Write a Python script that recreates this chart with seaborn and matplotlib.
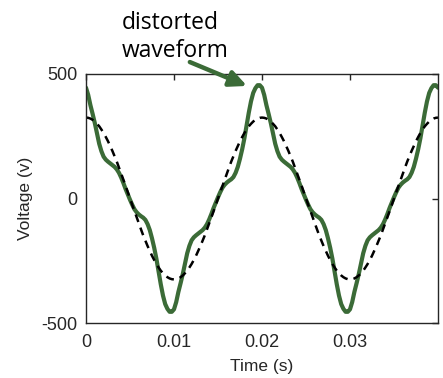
import numpy as np
import matplotlib
matplotlib.use("Agg")
import matplotlib.pyplot as plt
import seaborn as sns

# Sample times (s), one every 0.25 ms over two cycles
time_s = np.linspace(0, 0.04, 161)

# Distorted voltage (V)
distorted_v = [
    445, 416, 375, 340, 303, 262, 220, 190, 168, 156,
    148, 141, 134, 127, 117, 103, 84, 62, 38, 16,
    -5, -25, -43, -55, -64, -71, -77, -86, -103, -127,
    -160, -198, -242, -293, -345, -390, -424, -443, -455, -455,
    -445, -416, -375, -340, -303, -262, -220, -190, -168, -156,
    -148, -141, -134, -127, -117, -103, -84, -62, -38, -16,
    5, 25, 43, 55, 64, 71, 77, 86, 103, 127,
    160, 198, 242, 293, 345, 390, 424, 443, 455, 455,
    445, 416, 375, 340, 303, 262, 220, 190, 168, 156,
    148, 141, 134, 127, 117, 103, 84, 62, 38, 16,
    -5, -25, -43, -55, -64, -71, -77, -86, -103, -127,
    -160, -198, -242, -293, -345, -390, -424, -443, -455, -455,
    -445, -416, -375, -340, -303, -262, -220, -190, -168, -156,
    -148, -141, -134, -127, -117, -103, -84, -62, -38, -16,
    5, 25, 43, 55, 64, 71, 77, 86, 103, 127,
    160, 198, 242, 293, 345, 390, 424, 443, 455, 455,
    445,
]

# Fundamental (dashed) voltage (V)
fundamental_v = [
    325, 324, 321, 316, 309, 300, 290, 277, 263, 247,
    230, 211, 191, 170, 148, 124, 100, 76, 51, 25,
    0, -25, -51, -76, -100, -124, -148, -170, -191, -211,
    -230, -247, -263, -277, -290, -300, -309, -316, -321, -324,
    -325, -324, -321, -316, -309, -300, -290, -277, -263, -247,
    -230, -211, -191, -170, -148, -124, -100, -76, -51, -25,
    0, 25, 51, 76, 100, 124, 148, 170, 191, 211,
    230, 247, 263, 277, 290, 300, 309, 316, 321, 324,
    325, 324, 321, 316, 309, 300, 290, 277, 263, 247,
    230, 211, 191, 170, 148, 124, 100, 76, 51, 25,
    0, -25, -51, -76, -100, -124, -148, -170, -191, -211,
    -230, -247, -263, -277, -290, -300, -309, -316, -321, -324,
    -325, -324, -321, -316, -309, -300, -290, -277, -263, -247,
    -230, -211, -191, -170, -148, -124, -100, -76, -51, -25,
    0, 25, 51, 76, 100, 124, 148, 170, 191, 211,
    230, 247, 263, 277, 290, 300, 309, 316, 321, 324,
    325,
]

x_ticks = [0, 0.01, 0.02, 0.03]
x_tick_labels = ["0", "0.01", "0.02", "0.03"]
y_ticks = [-500, 0, 500]
y_tick_labels = ["-500", "0", "500"]

green = "#3b6b37"
ink = "#262626"

sns.set_style("white")
plt.rcParams["font.family"] = ["Liberation Sans", "DejaVu Sans"]

fig = plt.figure(figsize=(4.43, 3.78), dpi=100)
ax = fig.add_axes([86 / 443, 1 - 323 / 378, 352 / 443, 249 / 378])

sns.lineplot(x=time_s, y=distorted_v, color=green, linewidth=3.0, ax=ax)
sns.lineplot(x=time_s, y=fundamental_v, color="black", linewidth=1.8, ax=ax)
ax.lines[0].set_solid_joinstyle("round")
ax.lines[1].set_dashes((3.2, 2.4))

ax.set_xlim(0, 0.04)
ax.set_ylim(-500, 500)
ax.set_xticks(x_ticks, x_tick_labels)
ax.set_yticks(y_ticks, y_tick_labels)
ax.tick_params(direction="in", length=4, width=1, colors=ink, labelsize=13,
               top=True, right=True, labeltop=False, labelright=False)
ax.tick_params(axis="x", pad=8)
ax.tick_params(axis="y", pad=6)
for s in ax.spines.values():
    s.set_color(ink)
    s.set_linewidth(1.0)

ax.set_xlabel("Time (s)", fontsize=12.5, color=ink)
ax.set_ylabel("Voltage (v)", fontsize=12.5, color=ink)
ax.xaxis.set_label_coords(0.5, -0.145)
ax.yaxis.set_label_coords(-0.15, 0.5)

# annotation arrow and text
ax.annotate("", xy=(0.0183, 452), xytext=(0.0118, 548), annotation_clip=False,
            arrowprops=dict(arrowstyle="-|>,head_length=0.85,head_width=0.4",
                            color=green, lw=3.2, mutation_scale=12,
                            shrinkA=0, shrinkB=0))
fig.text(122 / 443, 1 - 29 / 378, "distorted", fontsize=16.5,
         family=["Open Sans", "DejaVu Sans"], color="black", va="baseline")
fig.text(122 / 443, 1 - 57 / 378, "waveform", fontsize=16.5,
         family=["Open Sans", "DejaVu Sans"], color="black", va="baseline")

fig.savefig("out.png", dpi=100)
